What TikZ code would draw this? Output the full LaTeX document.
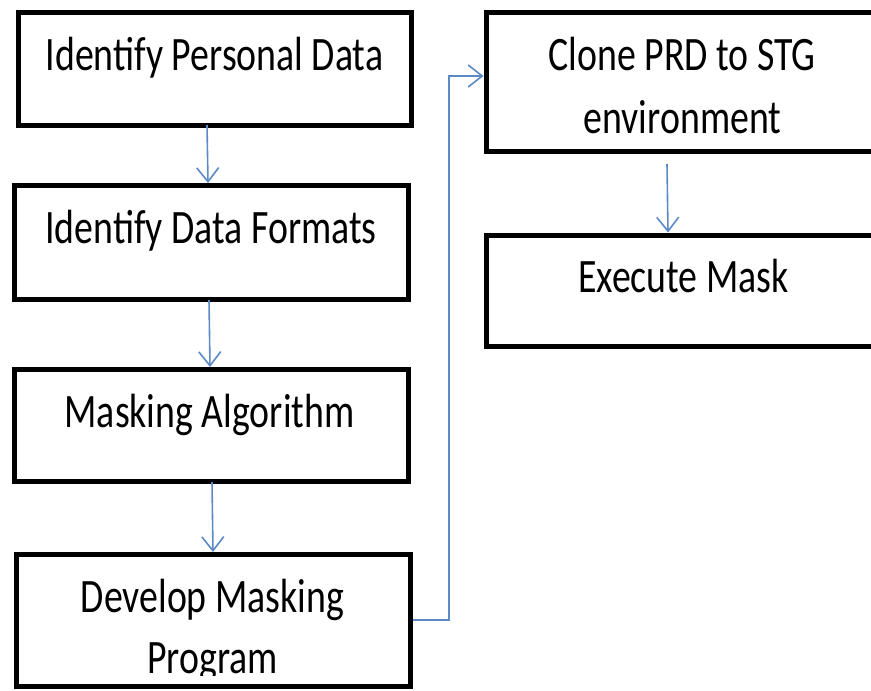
\documentclass[tikz,border=0pt]{standalone}
\usepackage{fontspec}
\setmainfont{Carlito}
\usetikzlibrary{arrows.meta}
\definecolor{arrowblue}{RGB}{92,138,198}
\tikzset{
  box/.style={draw=black, line width=5pt, fill=white, inner sep=0pt},
  lbl/.style={anchor=base, inner sep=0pt, font=\fontsize{37.8}{44}\selectfont},
  flow/.style={draw=arrowblue, line width=1.6pt, -{Straight Barb[length=14pt,width=22pt,line width=1.6pt]}}
}
\newcommand{\tallt}[1]{\scalebox{1}[1.27]{#1}}
\begin{document}
\begin{tikzpicture}[x=1pt,y=-1pt]
\useasboundingbox (0,0) rectangle (871,691);
% boxes
\node[box, minimum width=393pt, minimum height=113pt] (b1) at (215,69) {};
\node[box, minimum width=394pt, minimum height=114pt] (b2) at (211.5,242.5) {};
\node[box, minimum width=394pt, minimum height=112pt] (b3) at (211.5,425.5) {};
\node[box, minimum width=394pt, minimum height=132pt] (b4) at (213.5,620.5) {};
\node[box, minimum width=394pt, minimum height=139pt] (b5) at (683,82) {};
\node[box, minimum width=394pt, minimum height=111.5pt] (b6) at (683,290.75) {};
% labels
\node[lbl] (t1) at (214.5,70) {\tallt{Identify Personal Data}};
\node[lbl] (t2) at (211,243) {\tallt{Identify Data Formats}};
\node[lbl] (t3) at (209.5,427) {\tallt{Masking Algorithm}};
\begin{scope}
\clip (16,556) rectangle (411,675);
\node[lbl] (t4a) at (212.5,612) {\tallt{Develop Masking}};
\node[lbl] (t4b) at (212.5,673) {\tallt{Program}};
\end{scope}
\node[lbl] (t5a) at (682,70) {\tallt{Clone PRD to STG}};
\node[lbl] (t5b) at (682.5,133) {\tallt{environment}};
\node[lbl] (t6) at (683.5,292) {\tallt{Execute Mask}};
% connectors
\draw[flow] (b1.south -| 207,0) ++(0,-3) -- (b2.north -| 208,0);
\draw[flow] (b2.south -| 209,0) ++(0,-2) -- (b3.north -| 210,0);
\draw[flow] (b3.south -| 212,0) ++(0,-2) -- (b4.north -| 213,0);
\draw[flow] (b4.east |- 0,620) -- (449,620) -- (449,76) -- (b5.west |- 0,76);
\draw[flow] (b5.south -| 667,0) ++(0,10) -- (b6.north -| 668,0);
\end{tikzpicture}
\end{document}
